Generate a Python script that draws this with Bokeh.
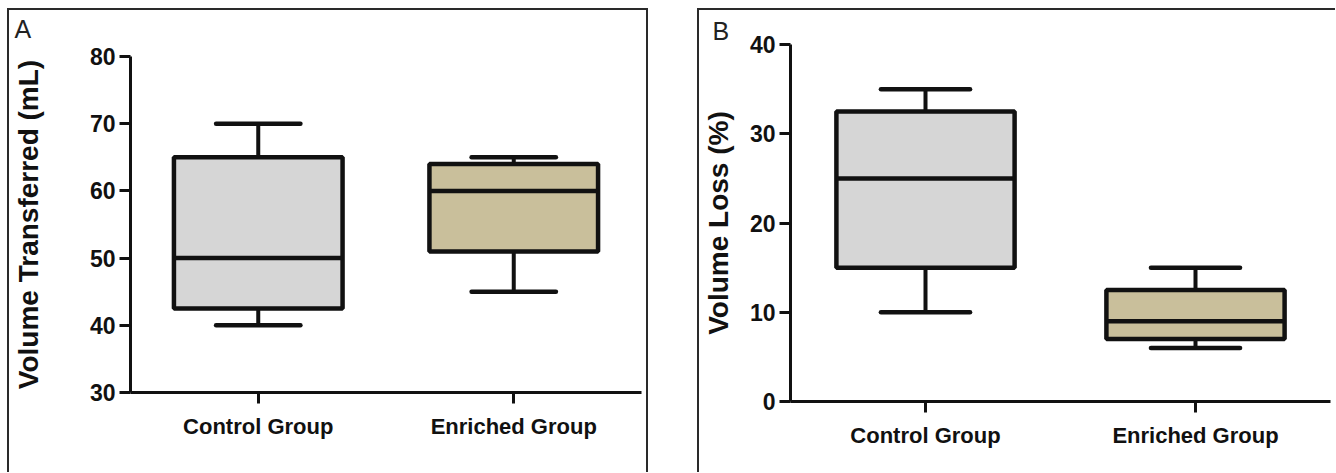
from bokeh.plotting import figure
from bokeh.models import Range1d, FactorRange, ColumnDataSource, FixedTicker, Spacer, Title
from bokeh.layouts import row, column
from bokeh.transform import dodge
from bokeh.embed import file_html
from bokeh.resources import INLINE

groups = ["Control Group", "Enriched Group"]
fills = ["#d6d6d6", "#c9bf9b"]

# Panel A: Volume Transferred (mL)
a_low = [40, 45]
a_q1 = [42.5, 51]
a_med = [50, 60]
a_q3 = [65, 64]
a_high = [70, 65]
a_ticks = [30, 40, 50, 60, 70, 80]

# Panel B: Volume Loss (%)
b_low = [10, 6]
b_q1 = [15, 7]
b_med = [25, 9]
b_q3 = [32.5, 12.5]
b_high = [35, 15]
b_ticks = [0, 10, 20, 30, 40]

FONT = "Liberation Sans"
INK = "#111111"
FRAME = "2px solid #2a2a2a"


def panel(letter, ytitle, low, q1, med, q3, high, ticks, width, height,
          bl, br, bt, bb, title_standoff, styles, letter_offset, gap):
    src = ColumnDataSource(dict(g=groups, low=low, q1=q1, med=med, q3=q3,
                                high=high, fill=fills))
    p = figure(x_range=FactorRange(*groups, range_padding=0),
               y_range=Range1d(ticks[0], ticks[-1]),
               width=width, height=height, output_backend="svg",
               toolbar_location=None, min_border_left=bl, min_border_right=br,
               min_border_top=bt, min_border_bottom=bb, styles=styles)
    p.outline_line_color = None
    p.grid.visible = False
    p.background_fill_color = "white"
    p.border_fill_color = "white"

    # spacer title next to the frame, then the panel letter above it
    if gap is not None:
        p.add_layout(Title(text=" ", text_font_size="1px", standoff=gap), "above")
    p.add_layout(Title(text=letter, align="left", offset=letter_offset,
                       standoff=0, text_font=FONT, text_font_style="normal",
                       text_font_size="25px", text_color="#222222"), "above")

    # whiskers
    p.segment(x0="g", y0="q3", x1="g", y1="high", source=src,
              line_color=INK, line_width=4)
    p.segment(x0="g", y0="q1", x1="g", y1="low", source=src,
              line_color=INK, line_width=4)
    for col in ["high", "low"]:
        p.segment(x0=dodge("g", -0.165, range=p.x_range), y0=col,
                  x1=dodge("g", 0.165, range=p.x_range), y1=col, source=src,
                  line_color=INK, line_width=4.5, line_cap="round")
    # boxes
    p.vbar(x="g", width=0.66, bottom="q1", top="q3", source=src,
           fill_color="fill", line_color=INK, line_width=4.5)
    # medians
    p.segment(x0=dodge("g", -0.33, range=p.x_range), y0="med",
              x1=dodge("g", 0.33, range=p.x_range), y1="med", source=src,
              line_color=INK, line_width=4.5)

    for ax in (p.xaxis, p.yaxis):
        ax.axis_line_color = INK
        ax.axis_line_width = 3
        ax.major_tick_line_color = INK
        ax.major_tick_line_width = 3
        ax.major_tick_in = 0
        ax.major_tick_out = 11
        ax.minor_tick_line_color = None
        ax.major_label_text_font = FONT
        ax.major_label_text_font_style = "bold"
        ax.major_label_text_color = INK

    p.xaxis.major_label_text_font_size = "22px"
    p.xaxis.major_label_standoff = 10
    p.yaxis.ticker = FixedTicker(ticks=ticks)
    p.yaxis.major_label_text_font_size = "23px"
    p.yaxis.major_label_standoff = 4
    p.yaxis.axis_label = ytitle
    p.yaxis.axis_label_text_font = FONT
    p.yaxis.axis_label_text_font_style = "bold"
    p.yaxis.axis_label_text_font_size = "28px"
    p.yaxis.axis_label_text_color = INK
    p.yaxis.axis_label_standoff = title_standoff
    return p


pa = panel("A", "Volume Transferred (mL)", a_low, a_q1, a_med, a_q3, a_high,
           a_ticks, 641, 464, 121, 9, 46, 82, 43,
           {"border-left": FRAME, "border-top": FRAME, "border-right": FRAME,
            "box-sizing": "border-box"}, -116, 11)
pb = panel("B", "Volume Loss (%)", b_low, b_q1, b_med, b_q3, b_high,
           b_ticks, 638, 464, 91, 7, 34, 73, 13,
           {"border-left": FRAME, "border-top": FRAME,
            "box-sizing": "border-box"}, -78, None)

left = column(Spacer(height=8), row(Spacer(width=7), pa))
right = column(Spacer(height=8), pb)
layout = row(left, Spacer(width=49), right)
open("out.html", "w").write(file_html(layout, INLINE))
